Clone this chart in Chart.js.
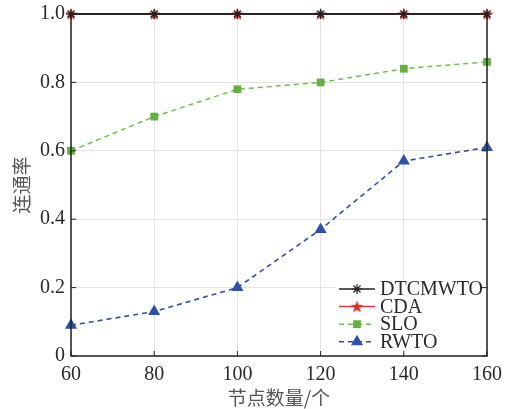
<!DOCTYPE html>
<html>
<head>
<meta charset="utf-8">
<script src="https://cdn.jsdelivr.net/npm/chart.js@4"></script>
<style>
  html, body { margin: 0; padding: 0; background: #fff; }
  #wrap { width: 507px; height: 409px; }
</style>
</head>
<body>
<div id="wrap"><canvas id="c" width="507" height="409"></canvas></div>
<script>
const nodeCounts = [60, 80, 100, 120, 140, 160];
const dtcmwto = [1.0, 1.0, 1.0, 1.0, 1.0, 1.0];
const cda = [1.0, 1.0, 1.0, 1.0, 1.0, 1.0];
const slo = [0.60, 0.70, 0.78, 0.80, 0.84, 0.86];
const rwto = [0.09, 0.13, 0.20, 0.37, 0.57, 0.61];
const seriesNames = ['DTCMWTO', 'CDA', 'SLO', 'RWTO'];

// five-pointed star marker for CDA
function makeStar(size, color) {
    const cv = document.createElement('canvas');
    cv.width = size; cv.height = size;
    const g = cv.getContext('2d');
    const cx = size / 2, cy = size / 2 + 0.5, R = size / 2, r = R * 0.42;
    g.beginPath();
    for (let i = 0; i < 10; i++) {
        const rad = i % 2 === 0 ? R : r;
        const a = -Math.PI / 2 + i * Math.PI / 5;
        g.lineTo(cx + rad * Math.cos(a), cy + rad * Math.sin(a));
    }
    g.closePath();
    g.fillStyle = color;
    g.fill();
    return cv;
}
const redStar = makeStar(13, '#d9302c');

const pts = arr => arr.map((v, i) => ({ x: nodeCounts[i], y: v }));

const frame = {
    id: 'frame',
    afterDraw(chart) {
        const { ctx, chartArea: a, scales } = chart;
        ctx.save();
        ctx.strokeStyle = '#222';
        ctx.lineWidth = 1.5;
        ctx.strokeRect(a.left, a.top, a.right - a.left, a.bottom - a.top);
        ctx.lineWidth = 1;
        ctx.beginPath();
        scales.x.ticks.forEach(t => {
            const x = scales.x.getPixelForValue(t.value);
            ctx.moveTo(x, a.bottom); ctx.lineTo(x, a.bottom - 5);
            ctx.moveTo(x, a.top); ctx.lineTo(x, a.top + 5);
        });
        scales.y.ticks.forEach(t => {
            const y = scales.y.getPixelForValue(t.value);
            ctx.moveTo(a.left, y); ctx.lineTo(a.left + 5, y);
            ctx.moveTo(a.right, y); ctx.lineTo(a.right - 5, y);
        });
        ctx.stroke();
        ctx.restore();
    }
};

const legendBox = {
    id: 'legendBox',
    afterDatasetsDraw(chart) {
        const { ctx, chartArea: a } = chart;
        const x0 = a.right - 152, y0 = a.bottom - 76;
        ctx.save();
        ctx.fillStyle = '#fff';
        ctx.fillRect(x0, y0, 150, 74);
        ctx.font = '20px "Liberation Serif", "Times New Roman", serif';
        ctx.textBaseline = 'middle';
        chart.data.datasets.forEach((ds, i) => {
            const y = y0 + 9 + i * 17.6;
            ctx.save();
            ctx.strokeStyle = ds.borderColor;
            ctx.lineWidth = ds.borderWidth;
            ctx.setLineDash(ds.borderDash || []);
            ctx.beginPath();
            ctx.moveTo(x0 + 4, y); ctx.lineTo(x0 + 40, y);
            ctx.stroke();
            ctx.setLineDash([]);
            ctx.fillStyle = ds.pointBackgroundColor;
            ctx.strokeStyle = ds.pointBorderColor;
            ctx.lineWidth = ds.pointBorderWidth || 0;
            Chart.helpers.drawPoint(ctx, {
                pointStyle: ds.pointStyle,
                radius: ds.pointRadius,
                rotation: 0,
                borderWidth: ds.pointBorderWidth
            }, x0 + 22, y);
            ctx.restore();
            ctx.fillStyle = '#2a2a2a';
            ctx.fillText(ds.label, x0 + 45, y + 1);
        });
        ctx.restore();
    }
};

new Chart(document.getElementById('c'), {
    type: 'line',
    data: {
        datasets: [
            {
                label: seriesNames[0], data: pts(dtcmwto),
                borderColor: '#222', borderWidth: 1.5,
                pointStyle: 'star', pointRadius: 5, pointBorderWidth: 1.2,
                pointBorderColor: '#222', pointBackgroundColor: '#222',
                clip: false
            },
            {
                label: seriesNames[1], data: pts(cda),
                borderColor: '#e23a36', borderWidth: 1.5,
                pointStyle: redStar, pointRadius: 6,
                pointBorderColor: '#d9302c', pointBackgroundColor: '#d9302c',
                clip: false
            },
            {
                label: seriesNames[2], data: pts(slo),
                borderColor: '#6fbf4a', borderWidth: 1.5, borderDash: [5, 4],
                pointStyle: 'rect', pointRadius: 5.5, pointBorderWidth: 0,
                pointBorderColor: '#64b040', pointBackgroundColor: '#64b040',
                clip: false
            },
            {
                label: seriesNames[3], data: pts(rwto),
                borderColor: '#34509c', borderWidth: 1.6, borderDash: [5, 4],
                pointStyle: 'triangle', pointRadius: 7, pointBorderWidth: 0,
                pointBorderColor: '#2b52a8', pointBackgroundColor: '#2b52a8',
                clip: false
            }
        ]
    },
    options: {
        animation: false,
        responsive: false,
        layout: { padding: { top: 14, right: 20, left: 0, bottom: 0 } },
        plugins: {
            legend: { display: false },
            tooltip: { enabled: false }
        },
        scales: {
            x: {
                type: 'linear', min: 60, max: 160,
                afterFit(s) { s.height = 53; s.paddingLeft = 0; s.paddingRight = 0; },
                grid: { color: '#e4e4e4', drawTicks: false },
                border: { display: false },
                ticks: {
                    stepSize: 20, padding: 7, color: '#2a2a2a',
                    font: { family: '"Liberation Serif", serif', size: 20 }
                },
                title: {
                    display: true, text: '节点数量/个', color: '#555',
                    padding: { top: 0, bottom: 0 },
                    font: { family: '"Noto Sans CJK SC", sans-serif', size: 19 }
                }
            },
            y: {
                min: 0, max: 1,
                afterFit(s) { s.width = 71; s.paddingTop = 0; s.paddingBottom = 0; },
                grid: { color: '#e4e4e4', drawTicks: false },
                border: { display: false },
                ticks: {
                    stepSize: 0.2, padding: 6, color: '#2a2a2a',
                    font: { family: '"Liberation Serif", serif', size: 20 },
                    callback: v => v === 0 ? '0' : v.toFixed(1)
                },
                title: {
                    display: true, text: '连通率', color: '#555',
                    padding: { top: 10, bottom: 0 },
                    font: { family: '"Noto Sans CJK SC", sans-serif', size: 19 }
                }
            }
        }
    },
    plugins: [frame, legendBox]
});
</script>
</body>
</html>
